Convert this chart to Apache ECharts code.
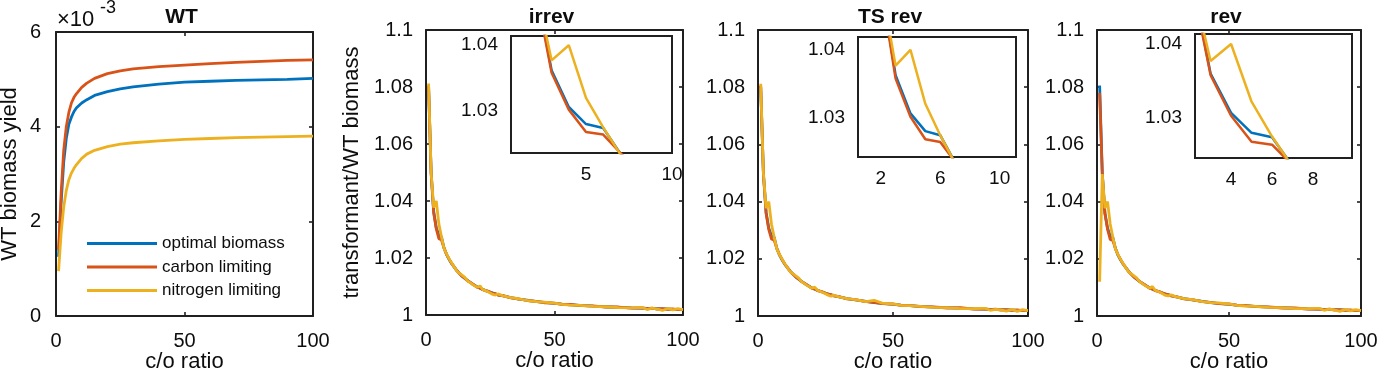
<!DOCTYPE html>
<html>
<head>
<meta charset="utf-8">
<script src="https://cdn.jsdelivr.net/npm/echarts@6/dist/echarts.min.js"></script>
<style>
  html, body { margin: 0; padding: 0; background: #fff; }
  #chart { width: 1378px; height: 372px; }
</style>
</head>
<body>
<div id="chart"></div>
<script>
// ---- data ----
// WT panel (biomass yield, real units)
var wtRatio = [1, 2, 3, 4, 5, 6, 7, 8, 10, 12, 15, 20, 25, 30, 40, 50, 60, 70, 80, 90, 100];
var wtOptimal = [0.00125, 0.0024, 0.00325, 0.00375, 0.00405, 0.0042, 0.00432, 0.0044, 0.0045, 0.00457, 0.00466, 0.00474, 0.0048, 0.00484, 0.0049, 0.00494, 0.00496, 0.00498, 0.00499, 0.005, 0.00502];
var wtCarbon = [0.0014, 0.0026, 0.0035, 0.004, 0.0043, 0.0045, 0.00462, 0.0047, 0.00483, 0.00492, 0.00502, 0.00512, 0.00518, 0.00522, 0.00527, 0.0053, 0.00533, 0.00536, 0.00538, 0.0054, 0.00541];
var wtNitrogen = [0.00095, 0.00175, 0.0023, 0.00265, 0.00288, 0.00302, 0.00312, 0.0032, 0.00333, 0.00342, 0.0035, 0.00358, 0.00363, 0.00366, 0.0037, 0.00373, 0.00375, 0.00377, 0.00378, 0.00379, 0.0038];

// transformant / WT biomass panels
var coRatio = [1, 2, 3, 4, 5, 6, 7, 8, 9, 10, 12, 14, 15, 16, 18, 20, 21, 22, 24, 26, 27, 28, 30, 33, 36, 40, 43, 46, 50, 53, 56, 60, 65, 70, 75, 80, 84, 86, 88, 90, 92, 94, 96, 98, 100];

var irrevOptimal = [1.0800, 1.0500, 1.0362, 1.0306, 1.0280, 1.0274, 1.0235, 1.0212, 1.0195, 1.0180, 1.0156, 1.0137, 1.0129, 1.0122, 1.0109, 1.0098, 1.0094, 1.0090, 1.0083, 1.0077, 1.0074, 1.0071, 1.0067, 1.0061, 1.0056, 1.0051, 1.0047, 1.0044, 1.0041, 1.0038, 1.0036, 1.0034, 1.0031, 1.0029, 1.0027, 1.0025, 1.0024, 1.0023, 1.0023, 1.0022, 1.0021, 1.0021, 1.0020, 1.0020, 1.0019];
var irrevCarbon = [1.0805, 1.0495, 1.0358, 1.0302, 1.0268, 1.0264, 1.0236, 1.0213, 1.0196, 1.0181, 1.0155, 1.0136, 1.0130, 1.0121, 1.0110, 1.0097, 1.0095, 1.0089, 1.0084, 1.0076, 1.0075, 1.0070, 1.0068, 1.0060, 1.0057, 1.0050, 1.0048, 1.0043, 1.0042, 1.0037, 1.0037, 1.0033, 1.0032, 1.0028, 1.0028, 1.0024, 1.0025, 1.0022, 1.0024, 1.0021, 1.0022, 1.0020, 1.0021, 1.0019, 1.0020];
var irrevNitrogen = [1.0812, 1.0500, 1.0377, 1.0400, 1.0320, 1.0275, 1.0234, 1.0214, 1.0197, 1.0182, 1.0154, 1.0140, 1.0133, 1.0121, 1.0108, 1.0097, 1.0102, 1.0090, 1.0082, 1.0072, 1.0070, 1.0074, 1.0067, 1.0061, 1.0057, 1.0050, 1.0047, 1.0045, 1.0042, 1.0037, 1.0035, 1.0034, 1.0030, 1.0029, 1.0026, 1.0025, 1.0027, 1.0019, 1.0024, 1.0021, 1.0016, 1.0023, 1.0018, 1.0022, 1.0019];

var tsrevOptimal = [1.0800, 1.0500, 1.0363, 1.0307, 1.0281, 1.0275, 1.0235, 1.0212, 1.0195, 1.0180, 1.0156, 1.0137, 1.0129, 1.0122, 1.0109, 1.0098, 1.0094, 1.0090, 1.0083, 1.0077, 1.0074, 1.0071, 1.0067, 1.0061, 1.0056, 1.0051, 1.0047, 1.0044, 1.0041, 1.0038, 1.0036, 1.0034, 1.0031, 1.0029, 1.0027, 1.0025, 1.0024, 1.0023, 1.0023, 1.0022, 1.0021, 1.0021, 1.0020, 1.0020, 1.0019];
var tsrevCarbon = [1.0806, 1.0496, 1.0358, 1.0302, 1.0269, 1.0265, 1.0236, 1.0214, 1.0196, 1.0181, 1.0155, 1.0136, 1.0130, 1.0121, 1.0110, 1.0097, 1.0095, 1.0089, 1.0084, 1.0076, 1.0075, 1.0070, 1.0068, 1.0060, 1.0057, 1.0050, 1.0048, 1.0043, 1.0042, 1.0037, 1.0037, 1.0033, 1.0032, 1.0028, 1.0029, 1.0024, 1.0025, 1.0022, 1.0024, 1.0021, 1.0022, 1.0020, 1.0021, 1.0019, 1.0020];
var tsrevNitrogen = [1.0812, 1.0500, 1.0377, 1.0400, 1.0321, 1.0275, 1.0234, 1.0214, 1.0197, 1.0182, 1.0154, 1.0140, 1.0133, 1.0121, 1.0108, 1.0097, 1.0101, 1.0090, 1.0082, 1.0073, 1.0069, 1.0073, 1.0067, 1.0061, 1.0057, 1.0050, 1.0055, 1.0045, 1.0042, 1.0037, 1.0036, 1.0034, 1.0030, 1.0029, 1.0026, 1.0026, 1.0027, 1.0020, 1.0023, 1.0021, 1.0017, 1.0023, 1.0016, 1.0022, 1.0019];

var revOptimal = [1.0806, 1.0500, 1.0360, 1.0307, 1.0280, 1.0274, 1.0235, 1.0212, 1.0195, 1.0180, 1.0156, 1.0137, 1.0129, 1.0122, 1.0109, 1.0098, 1.0094, 1.0090, 1.0083, 1.0077, 1.0074, 1.0071, 1.0067, 1.0061, 1.0056, 1.0051, 1.0047, 1.0044, 1.0041, 1.0038, 1.0036, 1.0034, 1.0031, 1.0029, 1.0027, 1.0025, 1.0024, 1.0023, 1.0023, 1.0022, 1.0021, 1.0021, 1.0020, 1.0020, 1.0019];
var revCarbon = [1.0780, 1.0496, 1.0358, 1.0303, 1.0268, 1.0264, 1.0236, 1.0213, 1.0196, 1.0181, 1.0155, 1.0136, 1.0130, 1.0121, 1.0110, 1.0097, 1.0095, 1.0089, 1.0084, 1.0076, 1.0075, 1.0070, 1.0068, 1.0060, 1.0057, 1.0050, 1.0048, 1.0043, 1.0042, 1.0037, 1.0037, 1.0033, 1.0032, 1.0028, 1.0028, 1.0024, 1.0025, 1.0022, 1.0024, 1.0021, 1.0022, 1.0020, 1.0021, 1.0019, 1.0020];
var revNitrogen = [1.0120, 1.0496, 1.0377, 1.0400, 1.0322, 1.0275, 1.0234, 1.0214, 1.0197, 1.0182, 1.0154, 1.0140, 1.0133, 1.0121, 1.0108, 1.0097, 1.0103, 1.0090, 1.0082, 1.0072, 1.0070, 1.0074, 1.0067, 1.0061, 1.0057, 1.0050, 1.0047, 1.0046, 1.0042, 1.0037, 1.0035, 1.0034, 1.0030, 1.0029, 1.0026, 1.0026, 1.0027, 1.0020, 1.0024, 1.0021, 1.0016, 1.0023, 1.0018, 1.0022, 1.0019];

var seriesNames = ['optimal biomass', 'carbon limiting', 'nitrogen limiting'];
var panelTitles = ['WT', 'irrev', 'TS rev', 'rev'];

// ---- layout / style ----
var FONT = '"Liberation Sans", Arial, Helvetica, sans-serif';
var AX = '#202020';
var TXT = '#0d0d0d';
var COLORS = ['#0072BD', '#D95319', '#EDB120'];

var option = {
    backgroundColor: '#fff',
    animation: false,
    textStyle: { fontFamily: FONT },
    grid: [], xAxis: [], yAxis: [], series: [], graphic: []
};

function fmt2(v) { return String(parseFloat(v.toFixed(2))); }

function axisPair(kind, gi, c) {
    var base = {
        type: 'value', gridIndex: gi, min: c.min, max: c.max,
        splitLine: { show: false },
        axisLine: { show: true, onZero: false, lineStyle: { color: AX, width: 2 } }
    };
    var main = Object.assign({}, base, {
        position: kind === 'x' ? 'bottom' : 'left',
        axisTick: { show: true, inside: true, length: c.tickLen, lineStyle: { color: AX, width: 1.6 } },
        axisLabel: { show: true, color: TXT, fontSize: c.fontSize, fontFamily: FONT, margin: c.margin,
            showMinLabel: true, showMaxLabel: true, formatter: c.formatter }
    });
    var other = Object.assign({}, base, {
        position: kind === 'x' ? 'top' : 'right',
        axisTick: { show: true, inside: true, length: c.tickLen, lineStyle: { color: AX, width: 1.6 } },
        axisLabel: { show: false }
    });
    if (c.interval != null) {
        main.interval = c.interval; other.interval = c.interval;
    } else {
        main.axisTick.customValues = c.ticks;
        other.axisTick.customValues = c.ticks;
        main.axisLabel.customValues = c.labels;
        other.axisLabel.customValues = c.labels;
    }
    if (c.name) {
        main.name = c.name;
        main.nameLocation = 'middle';
        main.nameGap = c.nameGap;
        main.nameMoveOverlap = false;
        main.nameTextStyle = { fontSize: 22, color: TXT, fontFamily: FONT };
    }
    return [main, other];
}

function addGrid(rect, xc, yc, isInset) {
    var gi = option.grid.length;
    option.grid.push({
        left: rect.left, top: rect.top, width: rect.width, height: rect.height,
        containLabel: false, outerBoundsMode: 'none',
        show: true, backgroundColor: '#fff',
        borderColor: AX, borderWidth: isInset ? 2 : 0, z: isInset ? 5 : 0
    });
    var xi = option.xAxis.length, yi = option.yAxis.length;
    option.xAxis = option.xAxis.concat(axisPair('x', gi, xc));
    option.yAxis = option.yAxis.concat(axisPair('y', gi, yc));
    return { x: xi, y: yi, z: isInset ? 6 : 2 };
}

function addLines(ax, xs, arrays, width, prefix) {
    arrays.forEach(function (ys, k) {
        option.series.push({
            name: prefix + seriesNames[k],
            type: 'line', xAxisIndex: ax.x, yAxisIndex: ax.y, z: ax.z + k * 0.1,
            symbol: 'none', showSymbol: false, clip: true, silent: true,
            lineStyle: { color: COLORS[k], width: width },
            itemStyle: { color: COLORS[k] },
            data: xs.map(function (x, i) { return [x, ys[i]]; })
        });
    });
}

// main panel rects
var mainRects = [
    { left: 56, top: 32, width: 257, height: 284 },
    { left: 426, top: 30, width: 257, height: 285 },
    { left: 758, top: 30, width: 270, height: 286 },
    { left: 1097, top: 30, width: 264, height: 286 }
];
var xMain = { min: 0, max: 100, interval: 50, fontSize: 20, margin: 15, tickLen: 4,
    formatter: function (v) { return String(Math.round(v)); }, name: 'c/o ratio', nameGap: 35 };

// WT panel
var axWT = addGrid(mainRects[0], xMain,
    { min: 0, max: 0.006, interval: 0.002, fontSize: 20, margin: 15, tickLen: 4,
      formatter: function (v) { return String(Math.round(v * 1000)); },
      name: 'WT biomass yield', nameGap: 35 }, false);
[wtOptimal, wtCarbon, wtNitrogen].forEach(function (ys, k) {
    option.series.push({
        name: seriesNames[k], type: 'line', xAxisIndex: axWT.x, yAxisIndex: axWT.y,
        symbol: 'none', silent: true, lineStyle: { color: COLORS[k], width: 2.8 }, itemStyle: { color: COLORS[k] },
        data: wtRatio.map(function (x, i) { return [x, ys[i]]; })
    });
});

// ratio panels
var yMainBase = { min: 1, max: 1.1, interval: 0.02, fontSize: 20, margin: 13, tickLen: 4, formatter: fmt2 };
var panelData = [
    [irrevOptimal, irrevCarbon, irrevNitrogen],
    [tsrevOptimal, tsrevCarbon, tsrevNitrogen],
    [revOptimal, revCarbon, revNitrogen]
];
var insetRects = [
    { left: 511, top: 36, width: 161, height: 117 },
    { left: 858, top: 37, width: 158, height: 120 },
    { left: 1195, top: 34, width: 157, height: 124 }
];
var insetX = [
    { min: 0.64, max: 10, ticks: [5, 10], labels: [5, 10] },
    { min: 0.47, max: 11.1, ticks: [2, 4, 6, 8, 10], labels: [2, 6, 10] },
    { min: 2.24, max: 9.9, ticks: [4, 6, 8], labels: [4, 6, 8] }
];
var insetY = [
    { min: 1.0236, max: 1.0414 },
    { min: 1.0243, max: 1.0419 },
    { min: 1.0246, max: 1.04135 }
];

for (var p = 0; p < 3; p++) {
    var yc = Object.assign({}, yMainBase);
    if (p === 0) { yc.name = 'transformant/WT biomass'; yc.nameGap = 63; }
    var ax = addGrid(mainRects[p + 1], xMain, yc, false);
    addLines(ax, coRatio, panelData[p], 2.8, panelTitles[p + 1] + ' ');

    var ix = insetX[p];
    var axI = addGrid(insetRects[p],
        { min: ix.min, max: ix.max, ticks: ix.ticks, labels: ix.labels, fontSize: 19, margin: 12, tickLen: 3,
          formatter: function (v) { return String(Math.round(v)); } },
        { min: insetY[p].min, max: insetY[p].max, ticks: [1.03, 1.04], labels: [1.03, 1.04],
          fontSize: 19, margin: 13, tickLen: 3, formatter: fmt2 }, true);
    addLines(axI, coRatio, panelData[p], 2.5, panelTitles[p + 1] + ' inset ');
}

// legend inside WT panel
option.legend = {
    data: seriesNames, orient: 'vertical', left: 87, top: 234, padding: 0,
    icon: 'rect', itemWidth: 70, itemHeight: 3, itemGap: 4.5,
    selectedMode: false,
    textStyle: { fontSize: 17, lineHeight: 19, color: TXT, fontFamily: FONT }
};

// panel titles and the exponent note
mainRects.forEach(function (r, i) {
    option.graphic.push({
        type: 'text', x: r.left + r.width / 2 - 3, y: 17,
        style: { text: panelTitles[i], font: 'bold 21px ' + FONT, fill: TXT,
                 textAlign: 'center', textVerticalAlign: 'middle' }
    });
});
option.graphic.push({
    type: 'text', x: 57, y: 20,
    style: { text: '\u00d710', font: '22px ' + FONT, fill: TXT, textAlign: 'left', textVerticalAlign: 'middle' }
});
option.graphic.push({
    type: 'text', x: 100, y: 8,
    style: { text: '-3', font: '18px ' + FONT, fill: TXT, textAlign: 'left', textVerticalAlign: 'middle' }
});

var chart = echarts.init(document.getElementById('chart'), null, { renderer: 'canvas' });
chart.setOption(option);
</script>
</body>
</html>
